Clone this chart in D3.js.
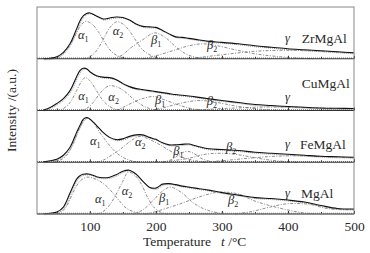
<!DOCTYPE html>
<html>
<head>
<meta charset="utf-8">
<script src="https://cdn.jsdelivr.net/npm/d3@7"></script>
<style>
  body { margin: 0; background: #fff; }
  text { font-family: "Liberation Serif", "Times New Roman", serif; fill: #2a2a2a; }
</style>
</head>
<body>
<div id="chart"></div>
<script>
const width = 370;
const height = 253;
const margin = {top: 7, right: 16, bottom: 39, left: 37};

// samples, top to bottom
const samples = ["ZrMgAl", "CuMgAl", "FeMgAl", "MgAl"];

// measured TPD profile (black line), temperature grid in °C
const temps = [30, 40, 50, 60, 70, 80, 85, 90, 95, 100, 110, 120, 130, 140, 150, 160, 170, 180, 190, 200,
  210, 220, 230, 240, 250, 260, 280, 300, 325, 350, 375, 400, 425, 450, 475, 500];
const zrMgAl = [0, 0.5, 2, 6.5, 15, 30, 38, 43, 45.5, 46, 43, 40, 41, 42, 41.5, 39, 35, 32.5, 32, 31.5,
  28.5, 25, 22, 21.5, 20.5, 19.5, 17.5, 16.5, 15, 13, 11.5, 10, 9, 8, 7, 6];
const cuMgAl = [0.5, 3, 7, 12, 20, 34, 40, 42.5, 42, 39, 35, 33.5, 33, 31, 27, 24, 22, 21, 20, 19,
  18, 17, 16, 15.3, 14.5, 13.7, 11.8, 10, 8, 6, 5, 4, 3.2, 2.5, 2.2, 2];
const feMgAl = [0.5, 1.5, 3, 7, 15, 30, 37, 43, 45, 43.5, 37, 30, 25, 22.7, 23.5, 26, 27.5, 27.5, 25, 23,
  19.5, 17.5, 17.5, 18, 18.3, 16.5, 13.5, 12.8, 11.8, 10, 9, 8, 7, 6, 5.5, 5];
const mgAl = [0.3, 0.8, 2, 7, 21, 35, 38.5, 40, 40.3, 40, 37.5, 36.5, 37, 39.5, 43, 44, 40, 33, 27, 26,
  30, 30.5, 29.5, 28, 27, 26, 24, 21.5, 19, 16.5, 15.5, 14, 12, 8.5, 5.5, 5];
const profiles = [zrMgAl, cuMgAl, feMgAl, mgAl];

// fitted peaks (dash-dot), [temperature, intensity] pairs: alpha1, alpha2, beta1, beta2, gamma
const zrPeaks = [
  [[40,0],[55,3],[65,9],[75,20],[85,32],[93,37.5],[103,35],[113,27],[123,16],[133,7],[145,2],[160,0]],
  [[90,0],[100,2],[110,8],[120,19],[130,31],[140,37],[150,35],[160,28],[170,18],[180,9],[195,2.5],[210,0]],
  [[135,0],[150,4],[160,10],[180,19],[198,26],[215,21],[230,12],[245,5],[260,1.5],[280,0]],
  [[180,0],[200,3],[225,8],[250,13],[270,15],[290,13.5],[320,9],[350,5],[380,2.5],[420,0.5],[440,0]],
  [[250,0],[300,4],[350,7.5],[400,8.5],[450,7.5],[500,5.5]]
];
const cuPeaks = [
  [[50,0],[60,2],[70,8],[80,20],[88,30],[93,33],[100,30],[110,20],[120,10],[130,4],[140,1],[155,0]],
  [[85,0],[95,2],[105,8],[115,17],[125,23.5],[132,25],[145,22.5],[155,18],[165,12],[175,7],[190,2],[210,0]],
  [[140,0],[150,3],[165,8],[180,12],[197,14],[212,11],[230,6.5],[250,2.5],[270,0.5],[285,0]],
  [[190,0],[210,2.5],[230,6],[250,9],[267,10],[285,9],[305,6.5],[330,3.5],[360,1.2],[390,0]],
  [[230,0],[270,1],[320,2.5],[370,3.5],[420,3],[460,2.2],[500,1.8]]
];
const fePeaks = [
  [[45,0],[55,2],[65,7],[75,19],[85,35],[95,44],[105,40],[115,30],[125,21],[135,13],[145,7],[160,2],[175,0]],
  [[110,0],[120,2],[135,8],[150,15],[163,22],[176,26],[190,23],[205,18],[220,12],[240,5],[260,1.5],[275,0]],
  [[210,0],[225,3],[237,8.5],[247,11],[257,9],[270,3.5],[285,0.5],[295,0]],
  [[210,0],[230,2],[250,4],[275,8],[300,9],[325,7.5],[350,4.5],[375,2],[400,0.5],[415,0]],
  [[270,0],[300,1.5],[340,4],[380,6],[420,6.5],[460,5.5],[500,4.5]]
];
const mgPeaks = [
  [[50,0],[57,2],[65,8],[75,22],[85,33],[95,37],[105,36],[115,33],[125,28],[135,21],[145,13],[155,6],[170,1.5],[185,0]],
  [[110,0],[120,2.5],[130,9],[140,20],[150,33],[158,42],[168,39],[178,30],[188,16],[198,6],[210,1],[220,0]],
  [[165,0],[180,4],[195,13],[210,23],[222,27],[240,21],[255,12],[270,6],[285,2.5],[300,0.5],[310,0]],
  [[185,0],[200,2.5],[215,5.5],[240,11],[265,17],[290,21.5],[305,22],[325,20],[350,13],[375,8],[400,4],[420,1.5],[440,0]],
  [[320,0],[345,2.5],[370,6.5],[395,10],[415,10.5],[435,9.5],[455,6],[475,4.5],[500,4.5]]
];
const peaks = [zrPeaks, cuPeaks, fePeaks, mgPeaks];

// peak names and where they are written, [temperature, intensity]
const peakLetters = ["α", "α", "β", "β", "γ"];
const peakSubs = ["1", "2", "1", "2", ""];
const zrLabelAt = [[82, 20.2], [134.6, 23.7], [192.6, 14.7], [277.4, 9.7], [395.5, 16.7]];
const cuLabelAt = [[82.5, 10.4], [128, 9.4], [198.7, 6.4], [277, 5.4], [395.5, 9.4]];
const feLabelAt = [[100.2, 17.6], [168.4, 16.1], [226.4, 7.1], [306.2, 11.1], [395.5, 14.1]];
const mgLabelAt = [[107.8, 10.8], [148.2, 18.8], [204.7, 11.8], [309.2, 9.8], [395.5, 16.8]];
const labelAt = [zrLabelAt, cuLabelAt, feLabelAt, mgLabelAt];
const nameAt = [[421, 16], [420.8, 22.9], [418.2, 13.1], [419.7, 16.3]];

const xTicks = [100, 200, 300, 400, 500];
const minorTicks = [50, 150, 250, 350, 450];

const svg = d3.select("#chart")
  .append("svg")
  .attr("width", width)
  .attr("height", height);

const xScale = d3.scaleLinear()
  .domain([20, 500])
  .range([margin.left, width - margin.right]);

const plotBottom = height - margin.bottom;
const panelH = (plotBottom - margin.top) / samples.length;

samples.forEach((name, i) => {
  const top = margin.top + i * panelH;
  const bottom = top + panelH;
  const yScale = d3.scaleLinear().domain([0, 52]).range([bottom, top]);
  const g = svg.append("g").attr("class", "panel");

  const line = d3.line()
    .x(d => xScale(d[0]))
    .y(d => yScale(d[1]))
    .curve(d3.curveCatmullRom);

  // dotted baseline
  g.append("line")
    .attr("x1", xScale(20)).attr("x2", xScale(500))
    .attr("y1", yScale(0.7)).attr("y2", yScale(0.7))
    .attr("stroke", "#666").attr("stroke-width", 1)
    .attr("stroke-dasharray", "1,1");

  // fitted peaks
  peaks[i].forEach(pk => {
    g.append("path")
      .datum(pk)
      .attr("d", line)
      .attr("fill", "none")
      .attr("stroke", "#707070")
      .attr("stroke-width", 0.8)
      .attr("stroke-dasharray", "3,1.5,1,1.5");
  });

  // measured profile, with the grey dotted fit sum just beside it
  const pts = temps.map((t, j) => [t, profiles[i][j]]);
  g.append("path")
    .datum(pts)
    .attr("d", line)
    .attr("fill", "none")
    .attr("stroke", "#999")
    .attr("stroke-width", 1)
    .attr("stroke-dasharray", "1,1")
    .attr("transform", "translate(1,1)");
  g.append("path")
    .datum(pts)
    .attr("d", line)
    .attr("fill", "none")
    .attr("stroke", "#111")
    .attr("stroke-width", 1.1);

  // peak labels
  labelAt[i].forEach((p, k) => {
    const t = g.append("text")
      .attr("x", xScale(p[0]))
      .attr("y", yScale(p[1]))
      .attr("font-size", 12.5)
      .attr("font-style", "italic")
      .text(peakLetters[k]);
    if (peakSubs[k]) {
      t.append("tspan")
        .attr("font-size", 8)
        .attr("font-style", "normal")
        .attr("dy", 3)
        .text(peakSubs[k]);
    }
  });

  g.append("text")
    .attr("x", xScale(nameAt[i][0]))
    .attr("y", yScale(nameAt[i][1]))
    .attr("font-size", 13.5)
    .text(name);

  // inward ticks along panel bottom
  g.append("g")
    .attr("transform", `translate(0, ${bottom})`)
    .call(d3.axisTop(xScale).tickValues(xTicks).tickSize(3).tickFormat(""))
    .call(a => a.select(".domain").remove())
    .call(a => a.selectAll("line").attr("stroke", "#333"));
  g.append("g")
    .attr("transform", `translate(0, ${bottom})`)
    .call(d3.axisTop(xScale).tickValues(minorTicks).tickSize(2).tickFormat(""))
    .call(a => a.select(".domain").remove())
    .call(a => a.selectAll("line").attr("stroke", "#333"));

  g.append("line")
    .attr("x1", margin.left).attr("x2", width - margin.right)
    .attr("y1", bottom).attr("y2", bottom)
    .attr("stroke", "#333").attr("stroke-width", 1);
});

// frame
svg.append("rect")
  .attr("x", margin.left)
  .attr("y", margin.top)
  .attr("width", width - margin.left - margin.right)
  .attr("height", plotBottom - margin.top)
  .attr("fill", "none")
  .attr("stroke", "#888")
  .attr("stroke-width", 1);

const xAxis = d3.axisBottom(xScale).tickValues(xTicks).tickSize(0).tickPadding(7);
const xAxisGroup = svg.append("g")
  .attr("transform", `translate(0, ${plotBottom})`)
  .call(xAxis);
xAxisGroup.select(".domain").remove();
xAxisGroup.selectAll("text")
  .attr("font-size", 13.5)
  .attr("font-family", "Liberation Serif, serif")
  .attr("fill", "#2a2a2a");

svg.append("text")
  .attr("x", 143)
  .attr("y", 246)
  .attr("font-size", 13.5)
  .text("Temperature");
const unit = svg.append("text")
  .attr("x", 221)
  .attr("y", 246)
  .attr("font-size", 13.5);
unit.append("tspan").attr("font-style", "italic").text("t");
unit.append("tspan").text(" /°C");

svg.append("text")
  .attr("transform", `translate(16, ${(margin.top + plotBottom) / 2}) rotate(-90)`)
  .attr("text-anchor", "middle")
  .attr("font-size", 13.5)
  .text("Intensity /(a.u.)");
</script>
</body>
</html>
